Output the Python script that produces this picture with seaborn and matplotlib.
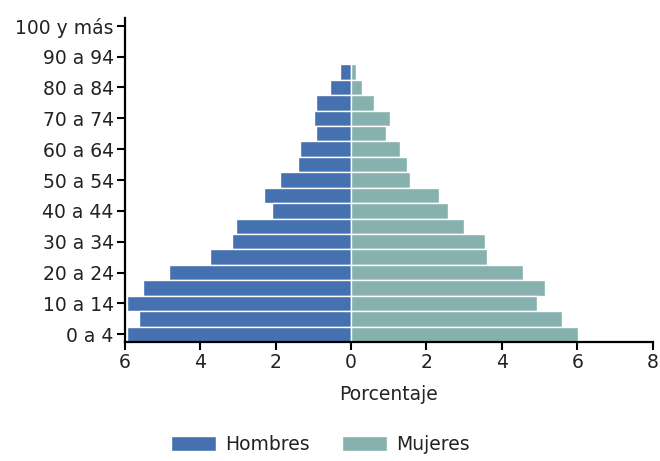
import numpy as np
import pandas as pd
import matplotlib
matplotlib.use("Agg")
import matplotlib.pyplot as plt
import seaborn as sns
from matplotlib.patches import Patch

# age groups, bottom to top
edades = ['0 a 4', '5 a 9', '10 a 14', '15 a 19', '20 a 24', '25 a 29', '30 a 34',
          '35 a 39', '40 a 44', '45 a 49', '50 a 54', '55 a 59', '60 a 64', '65 a 69',
          '70 a 74', '75 a 79', '80 a 84', '85 a 89', '90 a 94', '95 a 99', '100 y más']

# percentages (0 a 4 .. 85 a 89)
hombres = [5.94, 5.62, 5.94, 5.52, 4.82, 3.75, 3.16, 3.06, 2.10, 2.31,
           1.88, 1.41, 1.35, 0.92, 0.98, 0.92, 0.55, 0.29]
mujeres = [6.03, 5.60, 4.93, 5.13, 4.55, 3.60, 3.54, 3.00, 2.58, 2.32,
           1.57, 1.48, 1.31, 0.94, 1.04, 0.62, 0.30, 0.13]

col_h = '#4571B0'
col_m = '#87B1AE'

n = len(hombres)
df = pd.DataFrame({
    'edad': edades[:n] * 2,
    'pct': [-v for v in hombres] + mujeres,
    'sexo': ['Hombres'] * n + ['Mujeres'] * n,
})

sns.set_style('white')
plt.rcParams['font.family'] = ['DejaVu Sans']
fs = 13.5

fig = plt.figure(figsize=(6.6, 4.61), dpi=100)
ax = fig.add_axes([0.189, 0.258, 0.8, 0.703])

orden = edades[::-1]
sns.barplot(data=df, x='pct', y='edad', hue='sexo', order=orden,
            hue_order=['Hombres', 'Mujeres'], palette=[col_h, col_m],
            saturation=1, dodge=False, width=1.0, edgecolor='white',
            linewidth=1, errorbar=None, legend=False, ax=ax)

ax.set_xlim(-6, 8)
ax.set_ylim(len(orden) - 0.5, -0.5)
xt = [-6, -4, -2, 0, 2, 4, 6, 8]
ax.set_xticks(xt)
ax.set_xticklabels([str(abs(v)) for v in xt])

mostrar = edades[::2]
ax.set_yticks([orden.index(e) for e in mostrar])
ax.set_yticklabels(mostrar)

ax.set_xlabel('Porcentaje', fontsize=fs, color='#222222', labelpad=9)
ax.set_ylabel('')

for s in ['top', 'right']:
    ax.spines[s].set_visible(False)
for s in ['left', 'bottom']:
    ax.spines[s].set_color('black')
    ax.spines[s].set_linewidth(1.6)
ax.tick_params(axis='both', which='both', direction='out', length=6, width=1.5,
               color='black', labelsize=fs, labelcolor='#222222', pad=2)
ax.tick_params(axis='x', bottom=True)
ax.tick_params(axis='y', left=True)

handles = [Patch(facecolor=col_h, label='Hombres'),
           Patch(facecolor=col_m, label='Mujeres')]
fig.legend(handles=handles, loc='lower center', bbox_to_anchor=(0.485, -0.022),
           ncol=2, frameon=False, fontsize=fs, handlelength=2.4,
           handleheight=0.85, handletextpad=0.5, columnspacing=1.7,
           labelcolor='#222222')

fig.savefig('out.png', dpi=100)
